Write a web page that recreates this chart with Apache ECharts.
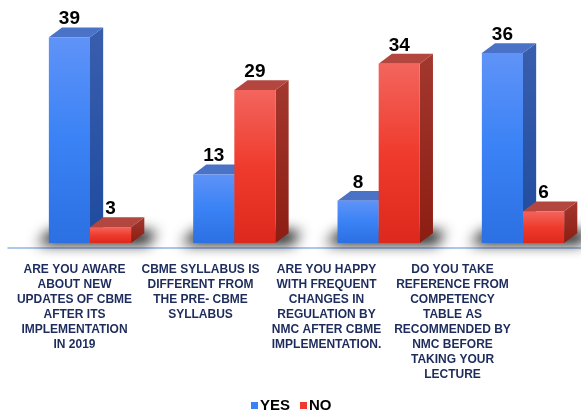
<!DOCTYPE html>
<html>
<head>
<meta charset="utf-8">
<script src="https://cdn.jsdelivr.net/npm/echarts@6/dist/echarts.min.js"></script>
<style>html,body{margin:0;padding:0;background:#fff}#c{width:581px;height:411px}</style>
</head>
<body>
<div id="c"></div>
<script>
const CATEGORIES = [
  "ARE YOU AWARE\nABOUT NEW\nUPDATES OF CBME\nAFTER ITS\nIMPLEMENTATION\nIN 2019",
  "CBME SYLLABUS IS\nDIFFERENT FROM\nTHE PRE- CBME\nSYLLABUS",
  "ARE YOU HAPPY\nWITH FREQUENT\nCHANGES IN\nREGULATION BY\nNMC AFTER CBME\nIMPLEMENTATION.",
  "DO YOU TAKE\nREFERENCE FROM\nCOMPETENCY\nTABLE AS\nRECOMMENDED BY\nNMC BEFORE\nTAKING YOUR\nLECTURE"
];
const YES = [39, 13, 8, 36];
const NO = [3, 29, 34, 6];

const G = echarts.graphic;
const STY = {
  yes: {
    front: ['#5f93f8', '#3a82f5', '#2c70e2'],
    side: ['#3a5eae', '#1e4b9e'],
    top: '#4a72c6'
  },
  no: {
    front: ['#f3655d', '#ef3b2d', '#dc291d'],
    side: ['#a3382f', '#8c1d12'],
    top: '#b3463f'
  }
};

function geom(api, i, v, left) {
  const base = api.coord([i, 0]);
  const top = api.coord([i, v]);
  const cw = api.size([1, 0])[0];
  const w = cw * 0.285;
  const dx = w * 0.32, dy = w * 0.24;
  const x0 = left ? base[0] - w : base[0];
  return {x0, x1: x0 + w, yb: base[1], yt: top[1], dx, dy, w};
}

function barRender(key, left) {
  const s = STY[key];
  return function (params, api) {
    const i = api.value(0), v = api.value(1);
    const g = geom(api, i, v, left);
    const {x0, x1, yb, yt, dx, dy} = g;
    return {
      type: 'group',
      children: [
        {
          type: 'polygon',
          shape: {points: [[x1, yb], [x1 + dx, yb - dy], [x1 + dx, yt - dy], [x1, yt]]},
          style: {fill: new G.LinearGradient(0, 0, 0, 1, [{offset: 0, color: s.side[0]}, {offset: 1, color: s.side[1]}])}
        },
        {
          type: 'polygon',
          shape: {points: [[x0, yt], [x0 + dx, yt - dy], [x1 + dx, yt - dy], [x1, yt]]},
          style: {fill: s.top}
        },
        {
          type: 'rect',
          shape: {x: x0, y: yt, width: x1 - x0, height: yb - yt},
          style: {fill: new G.LinearGradient(0, 0, 0, 1, [{offset: 0, color: s.front[0]}, {offset: 0.5, color: s.front[1]}, {offset: 1, color: s.front[2]}])}
        },
        {
          type: 'text',
          style: {
            text: String(v), x: (x0 + x1) / 2, y: yt - dy + 1,
            align: 'center', verticalAlign: 'bottom',
            font: 'bold 19px "Liberation Sans", Arial, sans-serif', fill: '#000'
          }
        }
      ]
    };
  };
}

const OFF = 2000;
function shadowRender(params, api) {
  const i = api.value(0);
  const gl = geom(api, i, 0, true);
  const gr = geom(api, i, 0, false);
  const yb = gl.yb;
  const pts = [
    [gl.x0 - 12, yb + 1],
    [gr.x1 + gr.dx + 4, yb + 1],
    [gr.x1 + gr.dx + 12, yb - gr.dy - 2],
    [gl.x0 + 2, yb - gr.dy - 2]
  ].map(p => [p[0] - OFF, p[1]]);
  return {
    type: 'polygon',
    shape: {points: pts},
    style: {fill: '#000', shadowBlur: 14, shadowOffsetX: OFF, shadowOffsetY: 0, shadowColor: 'rgba(0,0,0,1)'}
  };
}

const chart = echarts.init(document.getElementById('c'), null, {renderer: 'canvas'});
chart.setOption({
  animation: false,
  backgroundColor: '#fff',
  grid: [
    {left: 90, right: 58, top: 32, bottom: 168},
    {left: 8, right: 0, top: 247, height: 1},
    {left: 11.5, right: 65.5, top: 247, height: 1}
  ],
  xAxis: [
    {type: 'value', gridIndex: 0, min: 0, max: 3, show: false},
    {type: 'value', gridIndex: 1, min: 0, max: 1, axisLine: {show: true, lineStyle: {color: '#92b6ea', width: 1.5}}, axisTick: {show: false}, axisLabel: {show: false}, splitLine: {show: false}},
    {type: 'category', gridIndex: 2, data: CATEGORIES, axisLine: {show: false}, axisTick: {show: false}, splitLine: {show: false},
      axisLabel: {interval: 0, margin: 14, lineHeight: 15, color: '#1d2c5c', fontWeight: 'bold', fontSize: 12, fontFamily: '"Liberation Sans", Arial, sans-serif'}}
  ],
  yAxis: [
    {type: 'value', gridIndex: 0, min: 0, max: 40, show: false},
    {type: 'value', gridIndex: 1, show: false},
    {type: 'value', gridIndex: 2, show: false}
  ],
  legend: {
    top: 393, left: 246,
    itemWidth: 7, itemHeight: 7, itemGap: 10,
    icon: 'rect',
    textStyle: {fontWeight: 'bold', fontSize: 15, color: '#000', fontFamily: '"Liberation Sans", Arial, sans-serif', padding: [0, 0, 0, -3]},
    data: [{name: 'YES', itemStyle: {color: '#3a82f5'}}, {name: 'NO', itemStyle: {color: '#ef3b2d'}}]
  },
  series: [
    {type: 'custom', name: 'shadow', xAxisIndex: 0, yAxisIndex: 0, renderItem: shadowRender, data: CATEGORIES.map((c, i) => [i, 0]), z: 1, silent: true, clip: false},
    {type: 'custom', name: 'YES', xAxisIndex: 0, yAxisIndex: 0, renderItem: barRender('yes', true), data: YES.map((v, i) => [i, v]), itemStyle: {color: '#3a82f5'}, z: 2},
    {type: 'custom', name: 'NO', xAxisIndex: 0, yAxisIndex: 0, renderItem: barRender('no', false), data: NO.map((v, i) => [i, v]), itemStyle: {color: '#ef3b2d'}, z: 3}
  ]
});
</script>
</body>
</html>
